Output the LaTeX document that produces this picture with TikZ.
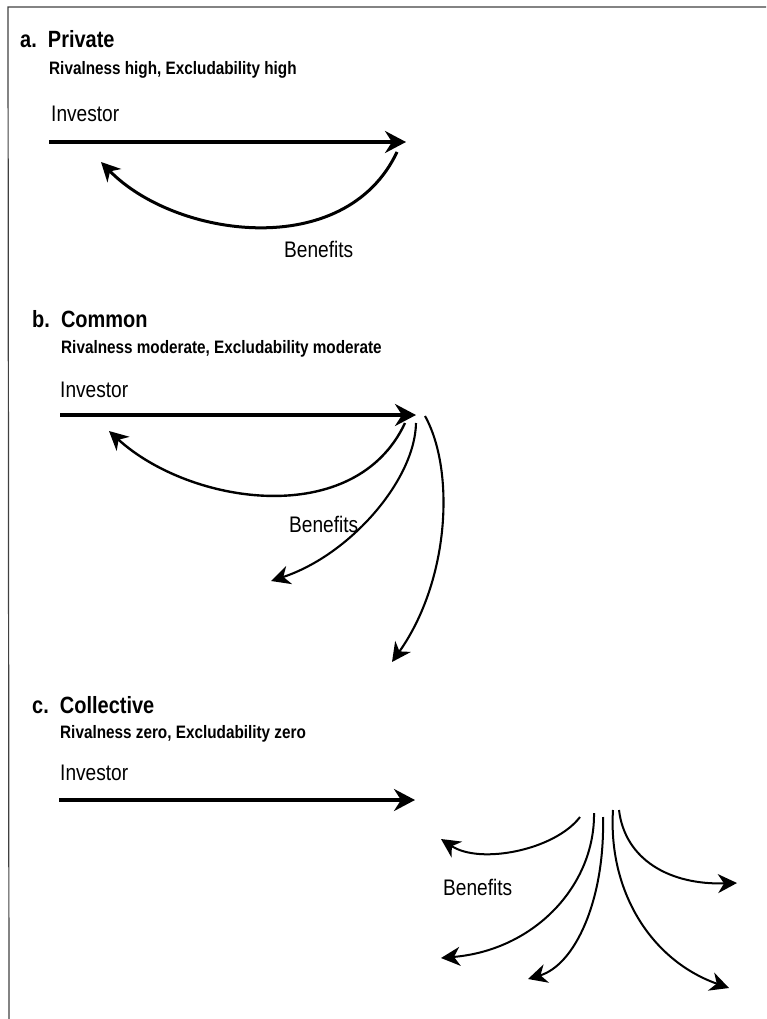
\documentclass[tikz,border=0pt]{standalone}
\usepackage{fontspec}
\setmainfont{Liberation Sans}[FakeStretch=0.85]
\usepackage{tikz}
\usetikzlibrary{arrows.meta}

\begin{document}
\begin{tikzpicture}[
    x=1pt, y=-1pt,
    heading/.style={anchor=base west, inner sep=0pt, font=\fontsize{23.5}{26}\selectfont\bfseries},
    subtitle/.style={anchor=base west, inner sep=0pt, font=\fontsize{18}{20}\selectfont\bfseries},
    label/.style={anchor=base west, inner sep=0pt, font=\fontsize{22.5}{25}\selectfont},
    invarrow/.style={-{Stealth[length=21pt, width=22pt, inset=7pt]}, line width=3.4pt},
    benarrow/.style={-{Stealth[length=19pt, width=19pt, inset=6pt]}, line width=#1},
    benarrow/.default=2pt
]
\useasboundingbox (0,0) rectangle (766,1019);

% Frame
\draw[black!75, line width=1.2pt] (766,7) -- (8,7) -- (9,1019);

% Part a: Private
\node[heading] (privhead) at (20,48) {a.~~Private};
\node[subtitle] (privsub) at (49,75) {Rivalness high, Excludability high};
\node[label] (privinv) at (51,122) {Investor};
\node[label] (privben) at (284,257) {Benefits};
\coordinate (privstart) at (49,142);
\coordinate (privhub) at (406,142);
\coordinate (privout) at (397,152);
\coordinate (privback) at (101,162);
\draw[invarrow] (privstart) -- (privhub);
\draw[benarrow=3pt] (privout) .. controls (345,262) and (175,238) .. (privback);

% Part b: Common
\node[heading] (commhead) at (32,327) {b.~~Common};
\node[subtitle] (commsub) at (61,353) {Rivalness moderate, Excludability moderate};
\node[label] (comminv) at (60,397) {Investor};
\node[label] (commben) at (289,532) {Benefits};
\coordinate (commstart) at (60,415);
\coordinate (commhub) at (416,415);
\coordinate (commoutA) at (405,423);
\coordinate (commoutB) at (416,423);
\coordinate (commoutC) at (425,416);
\coordinate (commback) at (109,431);
\coordinate (commendB) at (271,581);
\coordinate (commendC) at (392,662);
\draw[invarrow] (commstart) -- (commhub);
\draw[benarrow=2.4pt] (commoutA) .. controls (355,530) and (190,505) .. (commback);
\draw[benarrow=2.1pt] (commoutB) .. controls (415,480) and (350,555) .. (commendB);
\draw[benarrow=2.1pt] (commoutC) .. controls (455,470) and (450,580) .. (commendC);

% Part c: Collective
\node[heading] (collhead) at (32,713) {c.~~Collective};
\node[subtitle] (collsub) at (60,738) {Rivalness zero, Excludability zero};
\node[label] (collinv) at (60,780) {Investor};
\node[label] (collben) at (443,895) {Benefits};
\coordinate (collstart) at (59,800);
\coordinate (collhub) at (415,800);
\coordinate (colloutA) at (580,817);
\coordinate (colloutB) at (594,813);
\coordinate (colloutC) at (603,817);
\coordinate (colloutD) at (613,810);
\coordinate (colloutE) at (619,810);
\coordinate (collendA) at (441,839);
\coordinate (collendB) at (441,958);
\coordinate (collendC) at (528,979);
\coordinate (collendD) at (729,988);
\coordinate (collendE) at (737,883);
\draw[invarrow] (collstart) -- (collhub);
\draw[benarrow] (colloutA) .. controls (555,850) and (480,865) .. (collendA);
\draw[benarrow] (colloutB) .. controls (595,885) and (535,950) .. (collendB);
\draw[benarrow] (colloutC) .. controls (605,900) and (575,965) .. (collendC);
\draw[benarrow] (colloutD) .. controls (608,890) and (650,960) .. (collendD);
\draw[benarrow] (colloutE) .. controls (625,860) and (670,885) .. (collendE);

\end{tikzpicture}
\end{document}
